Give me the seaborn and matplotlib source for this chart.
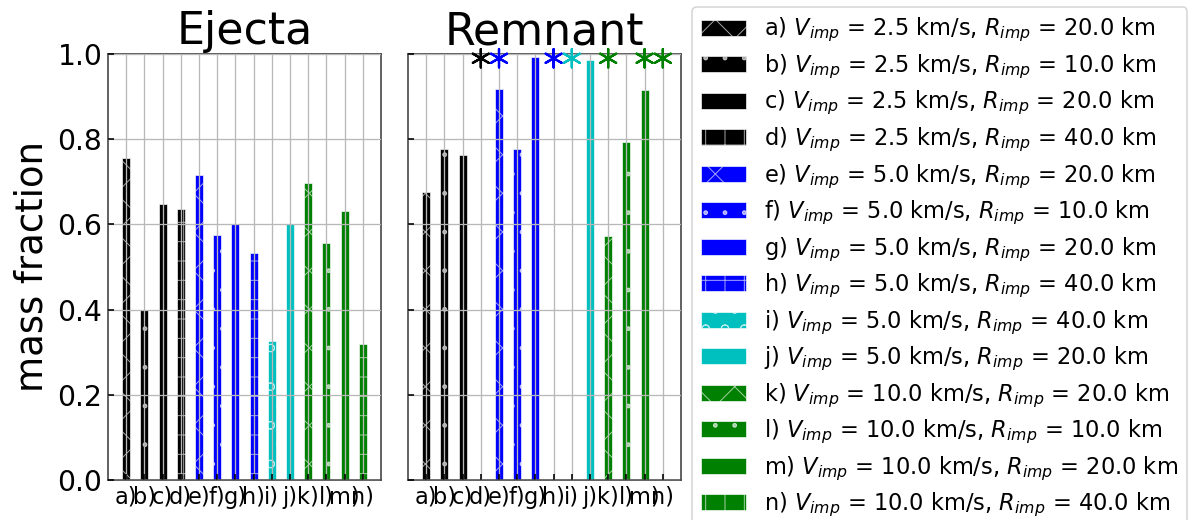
import numpy as np
import pandas as pd
import matplotlib
matplotlib.use("Agg")
import matplotlib.pyplot as plt
from matplotlib.patches import Patch
import seaborn as sns

# ---------------- data ----------------
labels = ["a)", "b)", "c)", "d)", "e)", "f)", "g)", "h)", "i)", "j)", "k)", "l)", "m)", "n)"]
v_imp = [2.5, 2.5, 2.5, 2.5, 5.0, 5.0, 5.0, 5.0, 5.0, 5.0, 10.0, 10.0, 10.0, 10.0]
r_imp = [20.0, 10.0, 20.0, 40.0, 20.0, 10.0, 20.0, 40.0, 40.0, 20.0, 20.0, 10.0, 20.0, 40.0]
colors = ["k", "k", "k", "k", "b", "b", "b", "b", "c", "c", "g", "g", "g", "g"]
hatches = ["x", ".", "", "+", "x", ".", "", "+", "o", "", "x", ".", "", "+"]

ejecta = [0.755, 0.400, 0.647, 0.636, 0.716, 0.575, 0.600, 0.532, 0.327, 0.600, 0.697, 0.557, 0.631, 0.320]
remnant = [0.677, 0.776, 0.763, 0.0, 0.917, 0.776, 0.993, 0.0, 0.0, 0.987, 0.573, 0.793, 0.915, 0.0]
remnant_flag = [0, 0, 0, 1, 1, 0, 0, 1, 1, 0, 1, 0, 1, 1]
flag_level = 0.99

yticks = [0.0, 0.2, 0.4, 0.6, 0.8, 1.0]

# ---------------- style ----------------
DPI = 116
plt.rcParams["hatch.linewidth"] = 0.6
plt.rcParams["font.family"] = ["DejaVu Sans"]

fig = plt.figure(figsize=(1194 / DPI, 520 / DPI), dpi=DPI)
ax1 = fig.add_axes([108 / 1194, 1 - 480 / 520, 273 / 1194, 426 / 520])
ax2 = fig.add_axes([408 / 1194, 1 - 480 / 520, 273 / 1194, 426 / 520])

edge = (1, 1, 1, 0.65)


def draw(ax, vals, title):
    df = pd.DataFrame({"label": labels, "val": vals})
    sns.barplot(data=df, x="label", y="val", hue="label", palette=colors,
                order=labels, hue_order=labels, width=0.45, legend=False,
                edgecolor=edge, linewidth=0.6, saturation=1, ax=ax)
    for cont, h in zip(ax.containers, hatches):
        for p in cont.patches:
            p.set_hatch(h)
    ax.set_xlim(-1, 14)
    ax.set_ylim(0, 1)
    ax.set_yticks(yticks)
    ax.set_axisbelow(False)
    ax.grid(True, color="#b8b8b8", linewidth=0.8)
    ax.set_title(title, fontsize=27.5, pad=6)
    ax.set_xlabel("")
    ax.set_ylabel("")
    ax.tick_params(axis="x", direction="in", labelsize=14, length=3.5, width=1.0, color="k")
    ax.tick_params(axis="y", direction="in", labelsize=17.5, length=3.5, width=1.0, color="k")
    for s in ax.spines.values():
        s.set_color("0.25")
        s.set_linewidth(1.0)


draw(ax1, ejecta, "Ejecta")
draw(ax2, remnant, "Remnant")
ax1.set_ylabel("mass fraction", fontsize=23)
ax2.tick_params(axis="y", labelleft=False)

# asterisk markers (flagged remnants)
fx = [i for i, f in enumerate(remnant_flag) if f]
fc = [colors[i] for i in fx]
ax2.scatter(fx, [flag_level] * len(fx), marker=(6, 2, 0), s=130, c=fc,
            linewidths=1.4, clip_on=False, zorder=5)

# legend
handles = [Patch(facecolor=c, hatch=h, edgecolor=edge, linewidth=0.6) for c, h in zip(colors, hatches)]
leg_labels = [f"{l} $V_{{imp}}$ = {v} km/s, $R_{{imp}}$ = {r} km" for l, v, r in zip(labels, v_imp, r_imp)]
fig.legend(handles, leg_labels, loc="upper left", bbox_to_anchor=(692 / 1194, 1 - 7 / 520),
           borderaxespad=0, fontsize=14, labelspacing=0.36, frameon=True, fancybox=True,
           edgecolor="0.8")

fig.savefig("out.png", dpi=DPI)
